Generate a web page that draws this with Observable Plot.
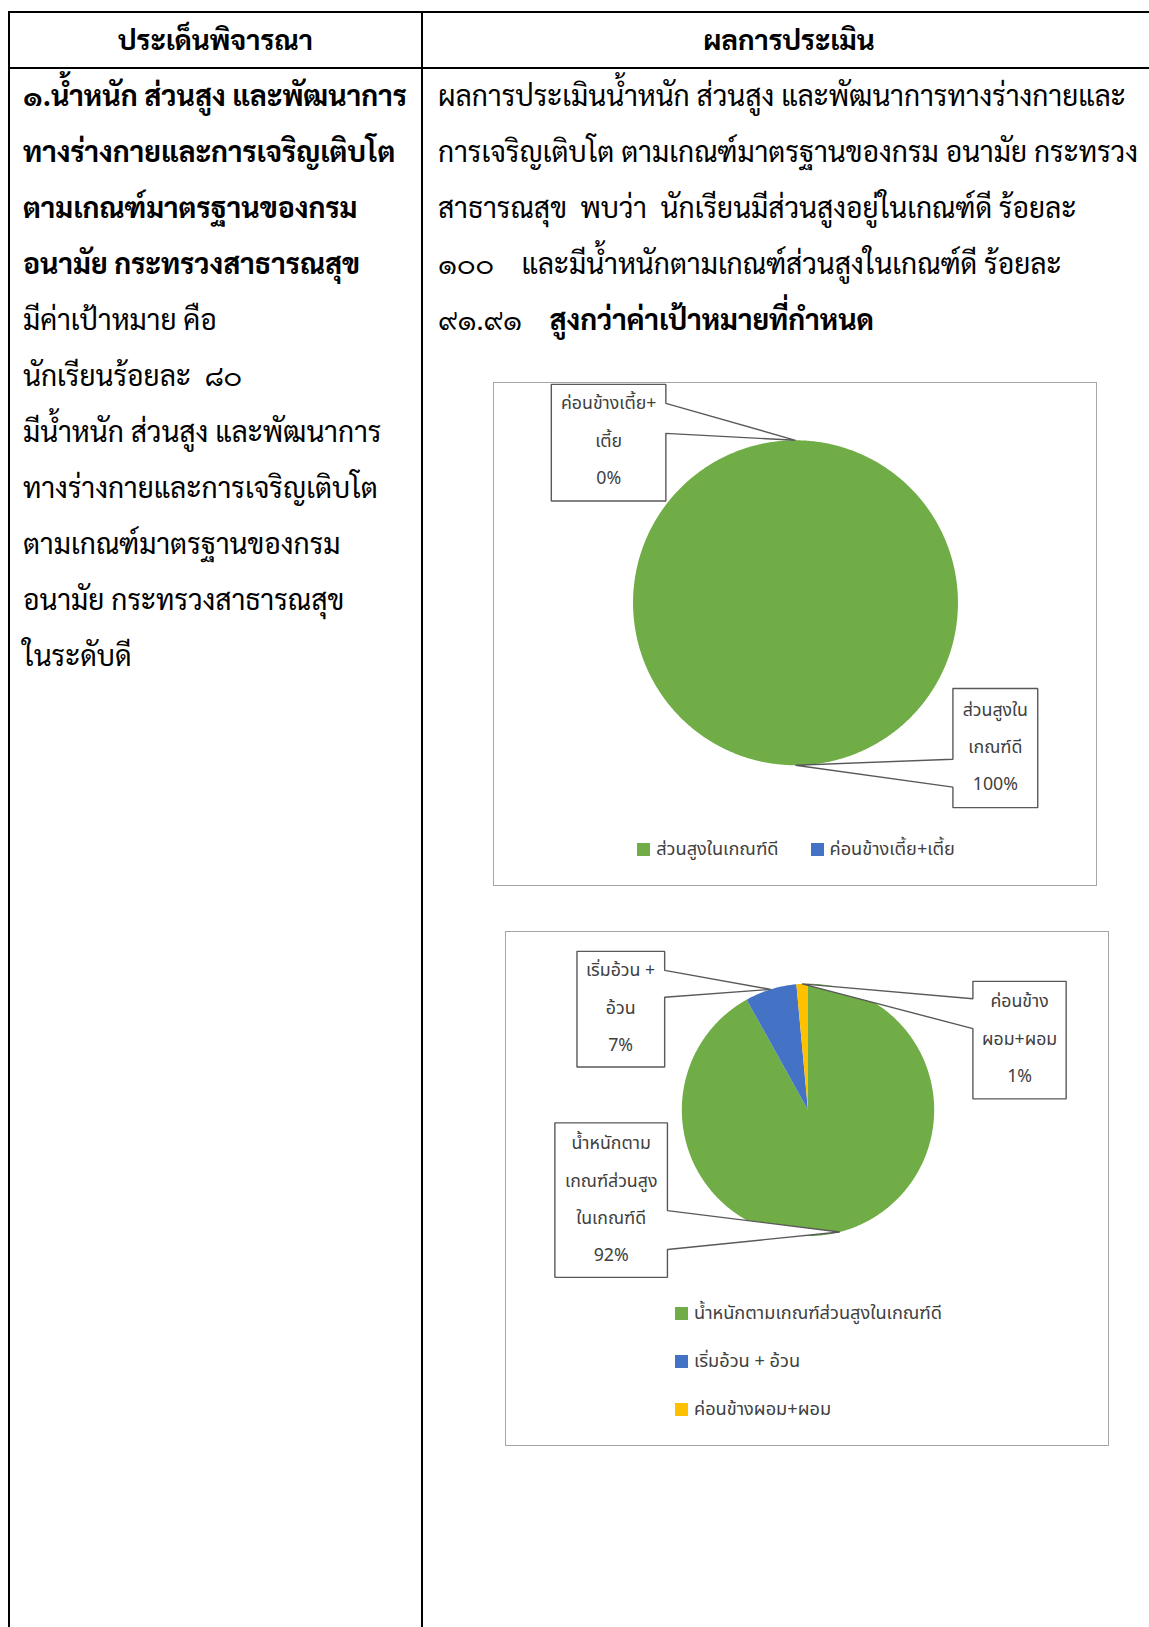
<!DOCTYPE html>
<html><head><meta charset="utf-8">
<script src="https://cdn.jsdelivr.net/npm/d3@7"></script>
<script src="https://cdn.jsdelivr.net/npm/@observablehq/plot@0.6"></script>
<style>
html,body{margin:0;padding:0;background:#fff;}
body{width:1149px;height:1627px;overflow:hidden;position:relative;color:#000;
 font-family:"TH Sarabun New","TH SarabunPSK","Sarabun","Noto Sans Thai","Noto Serif Thai","Garuda","Loma","Norasi","Noto Sans",sans-serif;}
.rule{position:absolute;background:#000;}
.ln{position:absolute;white-space:pre;line-height:1;transform:translateY(-50%);}
.frame{position:absolute;border:1.3px solid #a6a6a6;box-sizing:border-box;background:#fff;overflow:hidden;}
.frame > svg{position:absolute;left:0;top:0;}
.leg{position:absolute;}
.lgA-swatches{justify-content:center;font-size:18.2px!important;font-family:"Noto Sans Thai","Loma","Garuda","Noto Sans",sans-serif!important;color:#404040!important;margin:0!important;min-height:0!important;}
.lgA-swatch{margin:0 16px!important;height:30px!important;}
.lgB-swatches{font-size:18.2px!important;font-family:"Noto Sans Thai","Loma","Garuda","Noto Sans",sans-serif!important;color:#404040!important;margin:0!important;}
.lgB-swatch{height:48px!important;padding:0!important;margin:0!important;}
.lgA-swatch svg,.lgB-swatch svg{margin-right:6px!important;width:13px!important;height:13px!important;}
</style></head><body>
<script>
// ---------- document text ----------
const headerLeft = "ประเด็นพิจารณา";
const headerRight = "ผลการประเมิน";
const leftBold = ["๑.น้ำหนัก ส่วนสูง และพัฒนาการ","ทางร่างกายและการเจริญเติบโต","ตามเกณฑ์มาตรฐานของกรม","อนามัย กระทรวงสาธารณสุข"];
const leftNormal = ["มีค่าเป้าหมาย คือ","นักเรียนร้อยละ  ๘๐","มีน้ำหนัก ส่วนสูง และพัฒนาการ","ทางร่างกายและการเจริญเติบโต","ตามเกณฑ์มาตรฐานของกรม","อนามัย กระทรวงสาธารณสุข","ในระดับดี"];
const rightLines = ["ผลการประเมินน้ำหนัก ส่วนสูง และพัฒนาการทางร่างกายและ","การเจริญเติบโต ตามเกณฑ์มาตรฐานของกรม อนามัย กระทรวง","สาธารณสุข  พบว่า  นักเรียนมีส่วนสูงอยู่ในเกณฑ์ดี ร้อยละ","๑๐๐    และมีน้ำหนักตามเกณฑ์ส่วนสูงในเกณฑ์ดี ร้อยละ"];
const rightLastNormal = "๙๑.๙๑    ";
const rightLastBold = "สูงกว่าค่าเป้าหมายที่กำหนด";

// ---------- chart data ----------
const pie1Categories = ["ส่วนสูงในเกณฑ์ดี","ค่อนข้างเตี้ย+เตี้ย"];
const pie1Values = [100, 0];
const pie1LabelLines = [["ส่วนสูงใน","เกณฑ์ดี"],["ค่อนข้างเตี้ย+","เตี้ย"]];

const pie2Categories = ["น้ำหนักตามเกณฑ์ส่วนสูงในเกณฑ์ดี","เริ่มอ้วน + อ้วน","ค่อนข้างผอม+ผอม"];
const pie2Values = [91.91, 6.62, 1.47];
const pie2LabelLines = [["น้ำหนักตาม","เกณฑ์ส่วนสูง","ในเกณฑ์ดี"],["เริ่มอ้วน +","อ้วน"],["ค่อนข้าง","ผอม+ผอม"]];

// ---------- styles / layout ----------
const sliceColors = ["#70AD47","#4472C4","#FFC000"];
const chartFont = '"Noto Sans Thai","Loma","Garuda","Noto Sans",sans-serif';
const chartFontSize = 17.8;
const L = {
  tableTop:12, tableLeft:9, divider:422, headerBottom:68, tableRight:1156, rule:2,
  firstLine:94.5, lineStep:56.05, leftX:23, rightX:438, headerY:38.5,
  // target widths (px) used to fit the font sizes of each text style
  bodyTarget:688, boldTarget:384, headerTarget:195
};
const layout1 = {frame:{left:493,top:382,width:604,height:504}, cx:302, cy:220, r:163,
  legendTop:451, legendCols:0, legendClass:"lgA",
  boxes:[
    {x0:0.969,x1:1.491,y0:0.528,y1:1.261,side:"left",w0:0.963,w1:1.135,tx:1.230,ty:0.890},
    {x0:-1.503,x1:-0.798,y0:-1.344,y1:-0.626,side:"right",w0:-1.227,w1:-1.043,tx:-1.150,ty:-0.994}
  ]};
const layout2 = {frame:{left:505,top:931,width:604,height:515}, cx:302.5, cy:178, r:126.6,
  legendTop:357, legendLeft:169, legendCols:1, legendClass:"lgB",
  boxes:[
    {x0:-2.006,x1:-1.114,y0:0.103,y1:1.327,side:"right",w0:0.798,w1:1.106,tx:-1.560,ty:0.713},
    {x0:-1.831,x1:-1.136,y0:-1.256,y1:-0.340,side:"right",w0:-1.106,w1:-0.893,tx:-1.485,ty:-0.807},
    {x0:1.307,x1:2.046,y0:-1.019,y1:-0.087,side:"left",w0:-0.881,w1:-0.644,tx:1.677,ty:-0.561}
  ]};

// ---------- table ----------
function rule(x,y,w,h){const d=document.createElement("div");d.className="rule";Object.assign(d.style,{left:x+"px",top:y+"px",width:w+"px",height:h+"px"});document.body.appendChild(d);}
rule(L.tableLeft-1, L.tableTop-1, L.tableRight-L.tableLeft, L.rule);
rule(L.tableLeft-1, L.headerBottom-1, L.tableRight-L.tableLeft, L.rule);
rule(L.tableLeft-1, L.tableTop-1, L.rule, 1700);
rule(L.divider-1, L.tableTop-1, L.rule, 1700);

const groups = {body:[], bold:[], header:[]};
function textLine(parts, x, y, anchor){
  const d=document.createElement("div");d.className="ln";
  d.style.left=x+"px";d.style.top=y+"px";
  if(anchor==="middle") d.style.transform="translate(-50%,-50%)";
  parts.forEach(p=>{const s=document.createElement("span");s.textContent=p.t;s.style.fontSize="24px";if(p.g!=="body")s.style.fontWeight="bold";groups[p.g].push(s);d.appendChild(s);});
  document.body.appendChild(d);return d;
}
const hL = textLine([{t:headerLeft,g:"header"}], (L.tableLeft+L.divider)/2, L.headerY, "middle");
textLine([{t:headerRight,g:"header"}], (L.divider+L.tableRight)/2, L.headerY, "middle");
let boldRef, bodyRef;
leftBold.concat(leftNormal).forEach((t,i)=>{
  const d=textLine([{t,g:i<leftBold.length?"bold":"body"}], L.leftX, L.firstLine+i*L.lineStep);
  if(i===0) boldRef=d;
});
rightLines.forEach((t,i)=>{const d=textLine([{t,g:"body"}], L.rightX, L.firstLine+i*L.lineStep); if(i===0) bodyRef=d;});
textLine([{t:rightLastNormal,g:"body"},{t:rightLastBold,g:"bold"}], L.rightX, L.firstLine+4*L.lineStep);
// fit sizes
const fits = {
  header: 24*L.headerTarget/hL.getBoundingClientRect().width,
  bold: 24*L.boldTarget/boldRef.getBoundingClientRect().width,
  body: 24*L.bodyTarget/bodyRef.getBoundingClientRect().width
};
Object.keys(groups).forEach(g=>groups[g].forEach(s=>s.style.fontSize=fits[g].toFixed(2)+"px"));

// ---------- pies ----------
function pieChart(cats, vals, labelLines, lay){
  const total=d3.sum(vals); let acc=0; const pts=[], mids=[];
  cats.forEach((c,i)=>{
    const a0=acc/total*2*Math.PI; acc+=vals[i]; const a1=acc/total*2*Math.PI;
    mids.push((a0+a1)/2);
    if(a1>a0){
      pts.push({cat:c,x:0,y:0});
      const n=Math.max(2,Math.ceil((a1-a0)/(Math.PI/360)));
      for(let k=0;k<=n;k++){const a=a0+(a1-a0)*k/n;pts.push({cat:c,x:Math.sin(a),y:-Math.cos(a)});}
    }
  });
  const call=[], labels=[];
  cats.forEach((c,i)=>{
    const b=lay.boxes[i]; const ax=Math.sin(mids[i]), ay=-Math.cos(mids[i]);
    let poly;
    if(b.side==="right") poly=[[b.x0,b.y0],[b.x1,b.y0],[b.x1,b.w0],[ax,ay],[b.x1,b.w1],[b.x1,b.y1],[b.x0,b.y1],[b.x0,b.y0]];
    else poly=[[b.x0,b.y0],[b.x1,b.y0],[b.x1,b.y1],[b.x0,b.y1],[b.x0,b.w1],[ax,ay],[b.x0,b.w0],[b.x0,b.y0]];
    poly.forEach(p=>call.push({id:c,x:p[0],y:p[1]}));
    labels.push({x:b.tx,y:b.ty,text:labelLines[i].concat([Math.round(vals[i]/total*100)+"%"]).join("\n")});
  });
  const f=lay.frame, r=lay.r;
  const frame=document.createElement("div");frame.className="frame";
  Object.assign(frame.style,{left:f.left+"px",top:f.top+"px",width:f.width+"px",height:f.height+"px"});
  document.body.appendChild(frame);
  const plot=Plot.plot({
    width:f.width, height:f.height, margin:0,
    style:{fontFamily:chartFont, background:"transparent", overflow:"hidden"},
    x:{domain:[-1,1], range:[lay.cx-r, lay.cx+r], axis:null},
    y:{domain:[-1,1], range:[lay.cy-r, lay.cy+r], axis:null},
    color:{domain:cats, range:sliceColors.slice(0,cats.length)},
    marks:[
      Plot.line(pts,{x:"x",y:"y",z:"cat",fill:"cat",stroke:"none",curve:"linear"}),
      Plot.line(call,{x:"x",y:"y",z:"id",fill:"white",stroke:"#595959",strokeWidth:1.4,curve:"linear",strokeLinejoin:"miter"}),
      Plot.text(labels,{x:"x",y:"y",dy:-6.5,text:"text",fontSize:chartFontSize,lineHeight:37.4/chartFontSize,fill:"#404040",lineAnchor:"middle",textAnchor:"middle",fontFamily:chartFont})
    ]
  });
  frame.appendChild(plot);
  const leg=plot.legend("color",{swatchSize:13,className:lay.legendClass,columns:lay.legendCols||undefined});
  const holder=document.createElement("div");holder.className="leg";
  holder.style.top=lay.legendTop+"px";
  if(lay.legendCols){holder.style.left=lay.legendLeft+"px";holder.style.width="420px";}
  else {holder.style.left="0px";holder.style.width=f.width+"px";}
  holder.appendChild(leg);frame.appendChild(holder);
}
pieChart(pie1Categories,pie1Values,pie1LabelLines,layout1);
pieChart(pie2Categories,pie2Values,pie2LabelLines,layout2);
</script>
</body></html>
